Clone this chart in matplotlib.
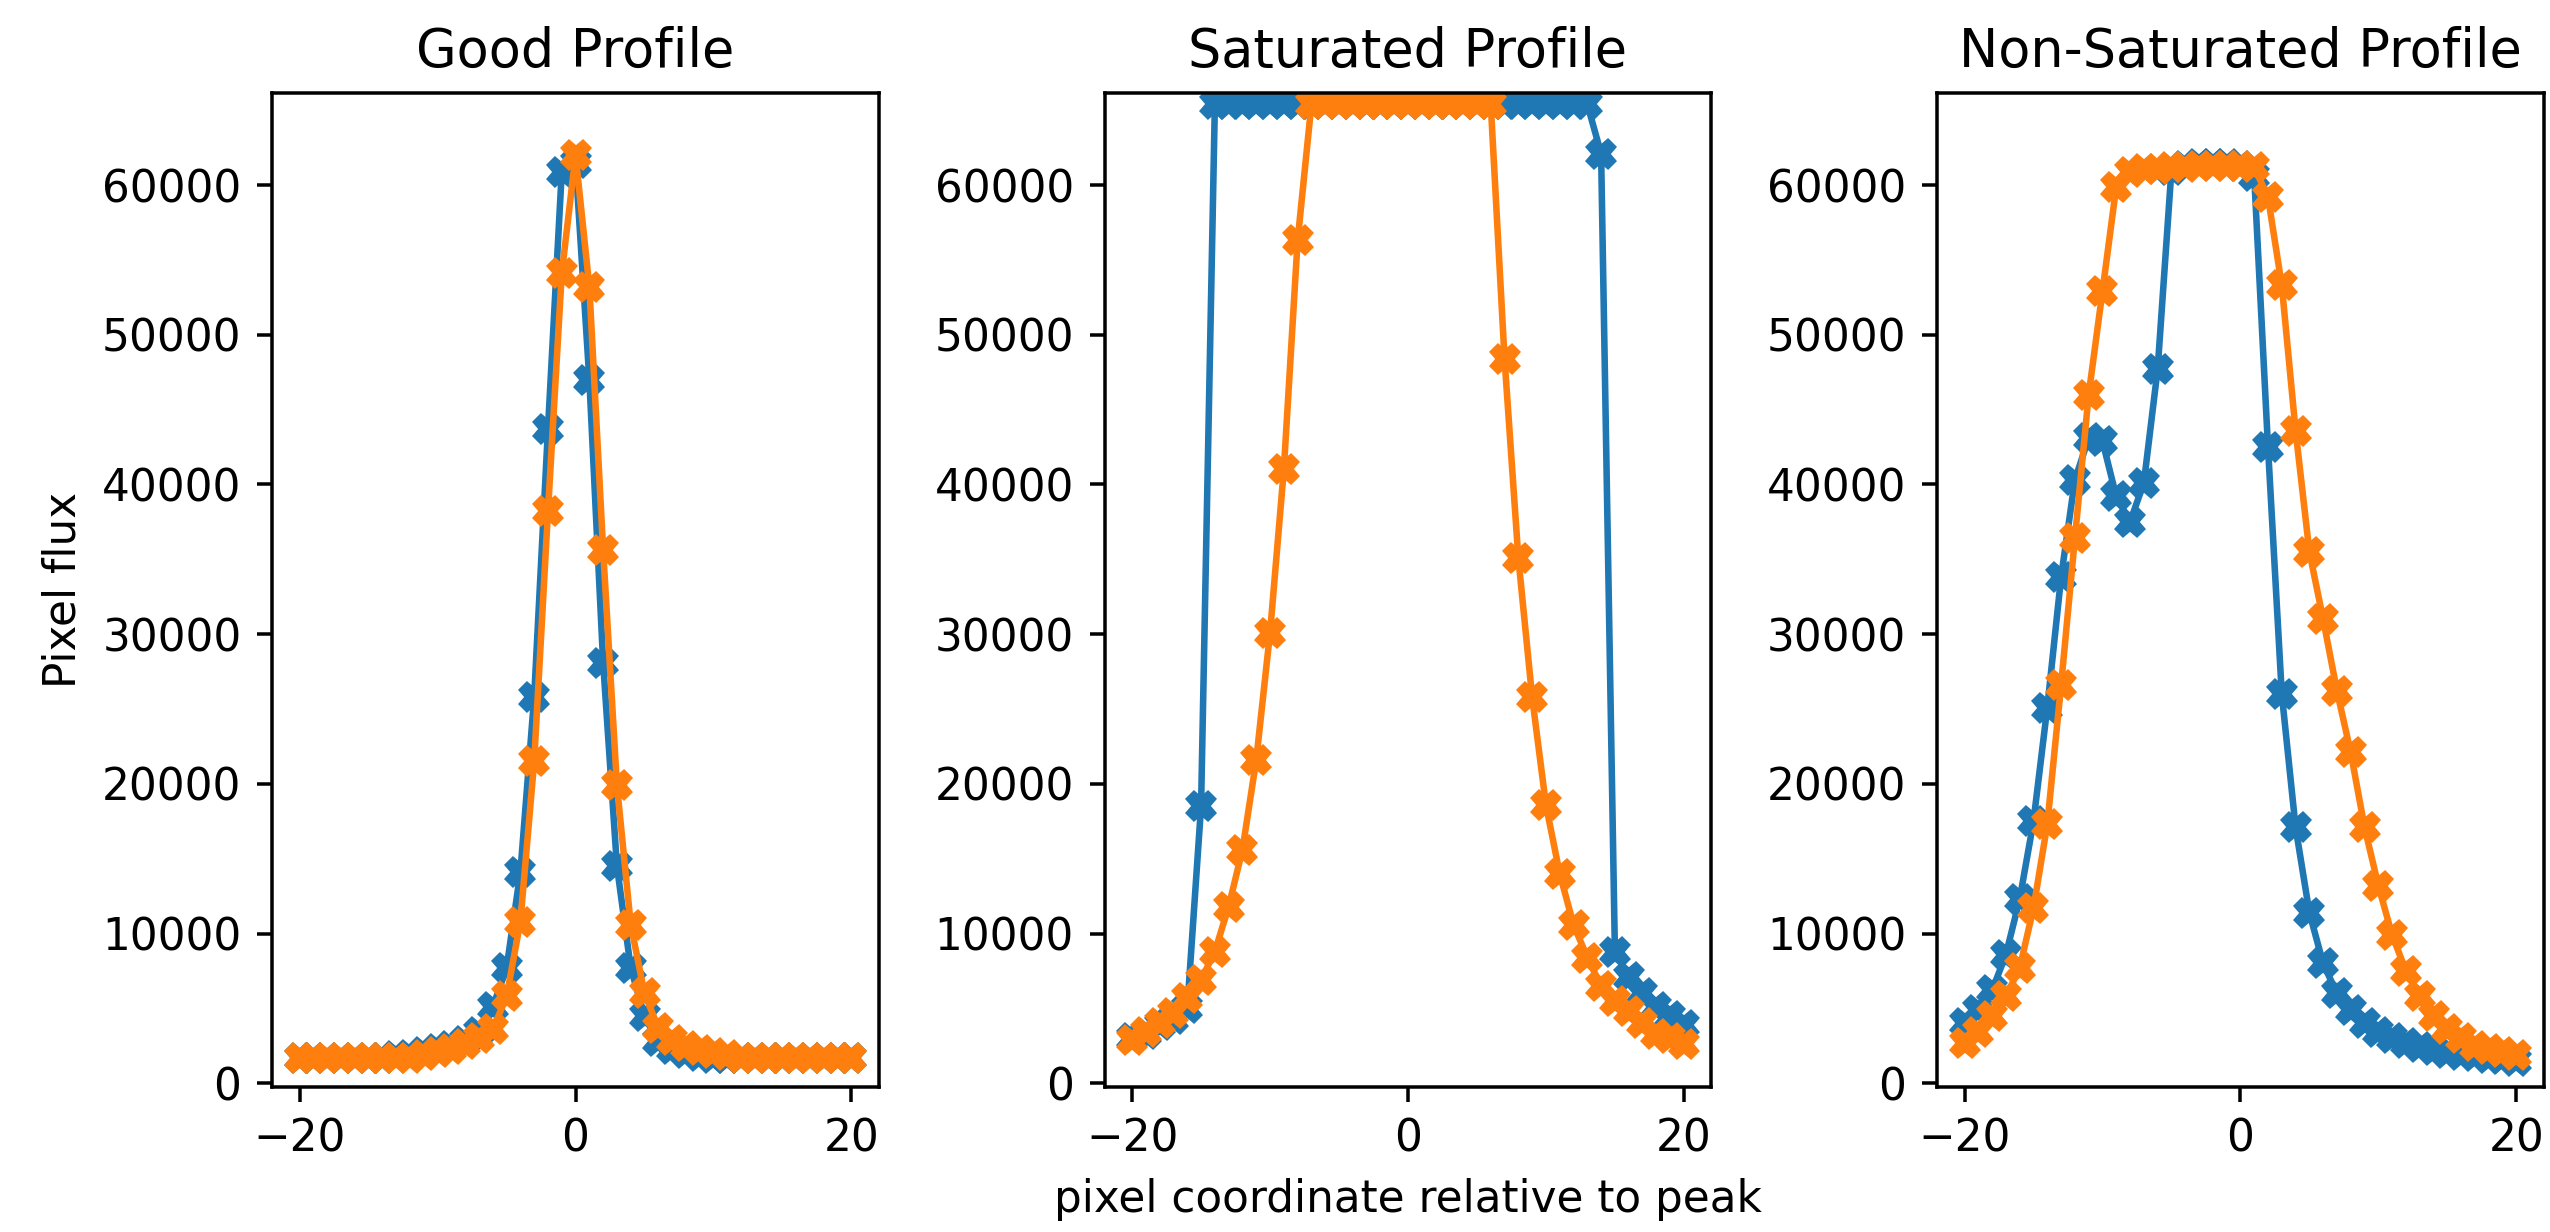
import numpy as np
import matplotlib
matplotlib.use("Agg")
import matplotlib.pyplot as plt

# pixel coordinate relative to peak (same for every profile)
x = np.arange(-20, 21)

SAT = 65400

# Good profile
good_a = [1700, 1700, 1700, 1700, 1700, 1700, 1700, 1800, 1900, 2100,
          2300, 2500, 2800, 3400, 5100, 7700, 14100, 25800, 43700, 60900,
          61500, 47000, 28100, 14500, 7700, 4500, 2800, 2300, 2000, 1800,
          1700, 1700, 1700, 1700, 1700, 1700, 1700, 1700, 1700, 1700,
          1700]
good_b = [1700, 1700, 1700, 1700, 1700, 1700, 1700, 1700, 1700, 1900,
          2100, 2300, 2600, 3000, 3600, 5800, 10800, 21500, 38200, 54100,
          62000, 53200, 35600, 19900, 10600, 6000, 3700, 2900, 2500, 2200,
          2000, 1900, 1700, 1700, 1700, 1700, 1700, 1700, 1700, 1700,
          1700]

# Saturated profile
sat_a = [3000, 3300, 3900, 4300, 5000, 18500] + [SAT] * 28 + \
        [62100, 8800, 7100, 6000, 5100, 4500, 3900]
sat_b = [2900, 3400, 4000, 4700, 5700, 6900, 8800, 11800, 15600, 21600,
         30100, 41000, 56300] + [SAT] * 14 + \
        [48400, 35100, 25800, 18600, 14000, 10600, 8400, 6500, 5500, 4800,
         4000, 3300, 3000, 2600]

# Non-saturated profile
nonsat_a = [4000, 4900, 6200, 8600, 12300, 17500, 25100, 33800, 40300, 43100,
            42900, 39200, 37500, 40100, 47700, 61000, 61300, 61400, 61400, 61400,
            61300, 60600, 42500, 26000, 17100, 11400, 8000, 6000, 4900, 4000,
            3400, 3000, 2700, 2400, 2200, 2000, 1900, 1800, 1700, 1600,
            1500]
nonsat_b = [2700, 3400, 4500, 5800, 7700, 11700, 17300, 26600, 36400, 46000,
            52900, 59900, 60900, 61100, 61100, 61200, 61200, 61300, 61300, 61300,
            61300, 61200, 59200, 53300, 43600, 35500, 31000, 26200, 22100, 17100,
            13200, 9900, 7500, 5800, 4500, 3600, 3000, 2500, 2300, 2100,
            1900]

titles = ["Good Profile", "Saturated Profile", "Non-Saturated Profile"]
profiles = [(good_a, good_b), (sat_a, sat_b), (nonsat_a, nonsat_b)]

fig, axes = plt.subplots(1, 3, figsize=(2550 / 315, 1232 / 315), dpi=315)
fig.subplots_adjust(left=0.1067, right=0.9976, bottom=0.1177, top=0.9245,
                    wspace=0.3715)

for ax, title, (a, b) in zip(axes, titles, profiles):
    ax.plot(x, a, marker="X")
    ax.plot(x, b, marker="X")
    ax.set_title(title)
    ax.set_ylim(-250, 66150)

axes[0].set_ylabel("Pixel flux")
axes[1].set_xlabel("pixel coordinate relative to peak")

fig.savefig("out.png", dpi=315)
